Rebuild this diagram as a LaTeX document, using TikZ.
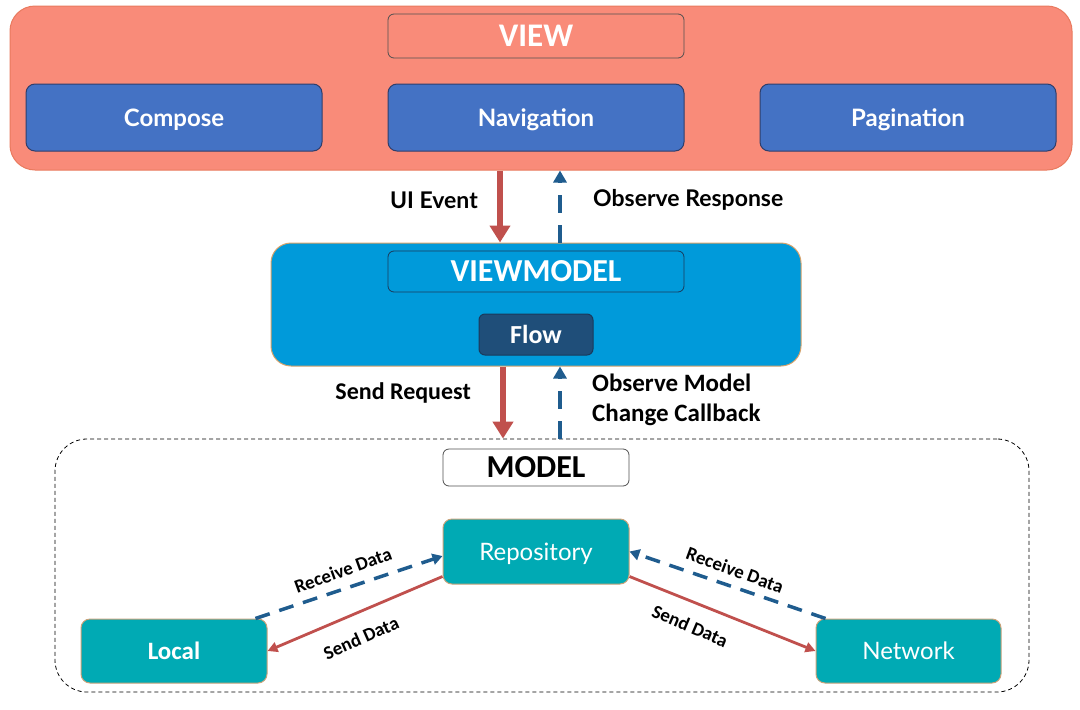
\documentclass[tikz,border=0pt]{standalone}
\usepackage{fontspec}
\setmainfont{Carlito}
\newfontfamily\latofont{Lato}
\usetikzlibrary{arrows.meta,calc}
\definecolor{salmon}{HTML}{F98B79}
\definecolor{viewborder}{HTML}{E97A5E}
\definecolor{boxblue}{HTML}{4472C4}
\definecolor{boxblueborder}{HTML}{2F3E6B}
\definecolor{vmblue}{HTML}{009ADA}
\definecolor{vmborder}{HTML}{D7A26A}
\definecolor{flowblue}{HTML}{1F4E79}
\definecolor{flowborder}{HTML}{1A3A5C}
\definecolor{tealbox}{HTML}{00AAB4}
\definecolor{tealborder}{HTML}{C8A27A}
\definecolor{arrred}{HTML}{C0504D}
\definecolor{arrblue}{HTML}{1F5C8E}
\definecolor{titleborder}{HTML}{505050}
\tikzset{
  viewouter/.style={fill=salmon, draw=viewborder, line width=1pt, rounded corners=25pt, inner sep=0pt},
  vmouter/.style={fill=vmblue, draw=vmborder, line width=1pt, rounded corners=20pt, inner sep=0pt},
  modelouter/.style={draw=black, line width=0.8pt, dash pattern=on 4pt off 3pt, rounded corners=32pt, inner sep=0pt},
  titlebox/.style={draw=titleborder, line width=0.8pt, rounded corners=6pt, inner sep=0pt, text depth=0pt},
  bluebox/.style={fill=boxblue, draw=boxblueborder, line width=1pt, rounded corners=9pt, inner sep=0pt, text depth=0pt, text=white, font=\latofont\bfseries\fontsize{24}{28}\selectfont},
  flowbox/.style={fill=flowblue, draw=flowborder, line width=1pt, rounded corners=6pt, inner sep=0pt, text depth=0pt, text=white, font=\bfseries\fontsize{26}{30}\selectfont},
  tealnode/.style={fill=tealbox, draw=tealborder, line width=1pt, rounded corners=9pt, inner sep=0pt, text depth=0pt, text=white},
  latolab/.style={inner sep=0pt, font=\latofont\bfseries\fontsize{23}{27}\selectfont},
  carlab/.style={inner sep=0pt, font=\bfseries\fontsize{24}{30}\selectfont},
  smalllab/.style={inner sep=0pt, font=\bfseries\fontsize{19}{22}\selectfont},
  redbig/.style={draw=arrred, line width=6pt, -{Triangle[width=20pt,length=17pt]}},
  bluebig/.style={draw=arrblue, line width=3.5pt, dash pattern=on 18pt off 12pt, -{Triangle[width=13pt,length=12pt]}},
  redsmall/.style={draw=arrred, line width=2.8pt, -{Triangle[width=10pt,length=10pt]}},
  bluesmall/.style={draw=arrblue, line width=3.5pt, dash pattern=on 15pt off 10pt, -{Triangle[width=11pt,length=10pt]}},
}
\begin{document}
\begin{tikzpicture}[x=1pt,y=-1pt]
\useasboundingbox (0,0) rectangle (1080,710);

% VIEW layer
\node[viewouter, minimum width=1062pt, minimum height=164pt] (view) at (541,88) {};
\node[titlebox, fill=salmon, minimum width=296pt, minimum height=44pt, text=white, font=\bfseries\fontsize{33}{36}\selectfont] (viewtitle) at (536,36) {VIEW};
\node[bluebox, minimum width=296pt, minimum height=67pt] (compose) at (174,117.5) {Compose};
\node[bluebox, minimum width=296pt, minimum height=67pt] (navigation) at (536,117.5) {Navigation};
\node[bluebox, minimum width=296pt, minimum height=67pt] (pagination) at (908,117.5) {Pagination};

% VIEWMODEL layer
\node[vmouter, minimum width=530pt, minimum height=123pt] (vm) at (536,304.5) {};
\node[titlebox, draw=flowborder, fill=vmblue, minimum width=296pt, minimum height=41pt, text=white, font=\bfseries\fontsize{32}{35}\selectfont] (vmtitle) at (536,271.5) {VIEWMODEL};
\node[flowbox, minimum width=114pt, minimum height=41pt] (flow) at (536,334.5) {Flow};

% MODEL layer
\node[modelouter, minimum width=974pt, minimum height=253pt] (model) at (542,565.5) {};
\node[titlebox, fill=white, minimum width=186pt, minimum height=37pt, font=\bfseries\fontsize{32}{35}\selectfont] (modeltitle) at (536,467.5) {MODEL};
\node[tealnode, minimum width=186pt, minimum height=65pt, font=\latofont\fontsize{24}{28}\selectfont] (repo) at (536,551.5) {Repository};
\node[tealnode, minimum width=186pt, minimum height=64pt, font=\bfseries\fontsize{25}{28}\selectfont] (local) at (174,651) {Local};
\node[tealnode, minimum width=185pt, minimum height=64pt, font=\latofont\fontsize{24}{28}\selectfont] (network) at (908.5,651) {Network};

% vertical connectors
\coordinate (xa) at (500,0);
\coordinate (xb) at (560,0);
\coordinate (xc) at (503,0);
\draw[redbig] (view.south -| xa) -- (vm.north -| xa);
\draw[bluebig] (vm.north -| xb) -- (view.south -| xb);
\draw[redbig] (vm.south -| xc) -- (model.north -| xc);
\draw[bluebig] (model.north -| xb) -- (vm.south -| xb);

\node[latolab, anchor=east] (uievent) at (478,200) {UI Event};
\node[latolab, anchor=west] (obsresp) at (593,200) {Observe Response};
\node[carlab, anchor=east] (sendreq) at (471,393) {Send Request};
\node[carlab, anchor=west, align=left, font=\bfseries\fontsize{25}{30}\selectfont] (obsmodel) at (592,400) {Observe Model\\Change Callback};

% diagonal connectors
\draw[bluesmall] ($(local.north east)+(-12,0)$) -- ($(repo.west)+(0,4.5)$);
\draw[redsmall] ($(repo.south west)+(0,-8)$) -- (local.east);
\draw[bluesmall] ($(network.north west)+(10,0)$) -- (repo.east);
\draw[redsmall] ($(repo.south east)+(0,-8)$) -- (network.west);

\node[smalllab, rotate=20] (recvl) at (343,570) {Receive Data};
\node[smalllab, rotate=24] (sendl) at (361,638) {Send Data};
\node[smalllab, rotate=-20] (recvr) at (735,570) {Receive Data};
\node[smalllab, rotate=-23] (sendr) at (690,626) {Send Data};
\end{tikzpicture}
\end{document}
